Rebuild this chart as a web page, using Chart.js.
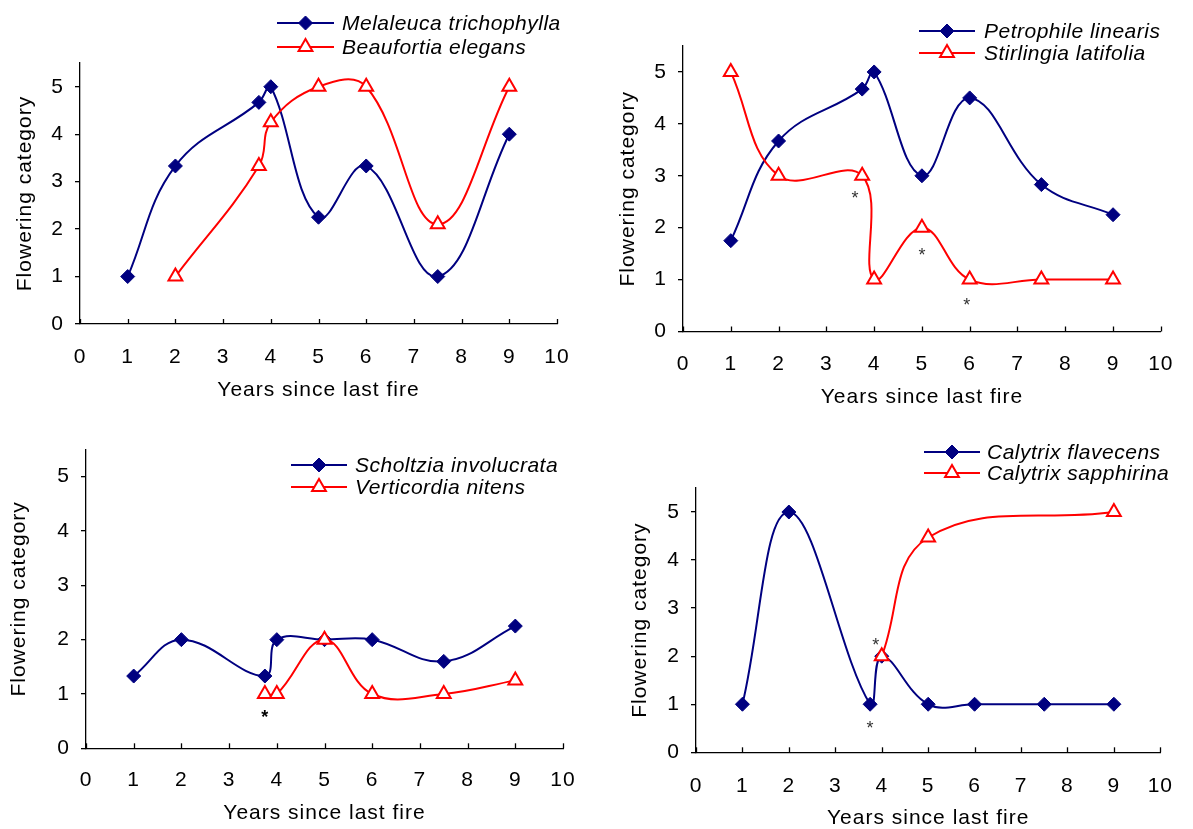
<!DOCTYPE html>
<html><head><meta charset="utf-8">
<script src="https://cdn.jsdelivr.net/npm/chart.js@4.4.1/dist/chart.umd.min.js"></script>
<style>
html,body{margin:0;padding:0;background:#fff;width:1193px;height:829px;overflow:hidden}
canvas{position:absolute;display:block}
</style></head><body>
<canvas id="c1" width="596" height="415" style="left:0;top:0;width:596px;height:415px"></canvas>
<canvas id="c2" width="597" height="415" style="left:596px;top:0;width:597px;height:415px"></canvas>
<canvas id="c3" width="596" height="414" style="left:0;top:415px;width:596px;height:414px"></canvas>
<canvas id="c4" width="597" height="414" style="left:596px;top:415px;width:597px;height:414px"></canvas>
<script>
// ---------- data ----------
const xTickValues = [0,1,2,3,4,5,6,7,8,9,10];
const yTickValues = [0,1,2,3,4,5];
const xTitle = 'Years since last fire';
const yTitle = 'Flowering category';

const melaleucaYears = [1,2,3.75,4,5,6,7.5,9];
const melaleucaFlowering = [1,3.33,4.67,5,2.25,3.33,1,4];
const beaufortiaYears = [2,3.75,4,5,6,7.5,9];
const beaufortiaFlowering = [1,3.33,4.25,5,5,2.1,5];

const petrophileYears = [1,2,3.75,4,5,6,7.5,9];
const petrophileFlowering = [1.75,3.67,4.67,5,3,4.5,2.83,2.25];
const stirlingiaYears = [1,2,3.75,4,5,6,7.5,9];
const stirlingiaFlowering = [5,3,3,1,2,1,1,1];

const scholtziaYears = [1,2,3.75,4,5,6,7.5,9];
const scholtziaFlowering = [1.33,2,1.33,2,2,2,1.6,2.25];
const verticordiaYears = [3.75,4,5,6,7.5,9];
const verticordiaFlowering = [1,1,2,1,1,1.25];

const flavecensYears = [1,2,3.75,4,5,6,7.5,9];
const flavecensFlowering = [1,5,1,2,1,1,1,1];
const sapphirinaYears = [4,5,9];
const sapphirinaFlowering = [2,4.47,5];

const panel1Names = ['Melaleuca trichophylla','Beaufortia elegans'];
const panel2Names = ['Petrophile linearis','Stirlingia latifolia'];
const panel3Names = ['Scholtzia involucrata','Verticordia nitens'];
const panel4Names = ['Calytrix flavecens','Calytrix sapphirina'];

const panel2AsteriskX = [3.6,5.0,5.94];
const panel2AsteriskY = [2.67,1.57,0.61];
const panel3AsteriskX = [3.75];
const panel3AsteriskY = [0.66];
const panel4AsteriskX = [3.87,3.75];
const panel4AsteriskY = [2.34,0.6];

// ---------- styling ----------
const FONT = '"Liberation Sans", Arial, Helvetica, sans-serif';
const NAVY = '#000080';
const RED = '#ff0000';

function pts(xs, ys){ return xs.map((x,i)=>({x:x, y:ys[i]})); }

function navySeries(xs, ys, name){
  return {label:name, data:pts(xs,ys), showLine:true, tension:0.4, borderColor:NAVY, borderWidth:2,
    pointStyle:'rectRot', pointRadius:7, pointBackgroundColor:NAVY, pointBorderColor:NAVY, pointBorderWidth:1,
    order:1, clip:false, kind:'diamond'};
}
function redSeries(xs, ys, name){
  return {label:name, data:pts(xs,ys), showLine:true, tension:0.4, borderColor:RED, borderWidth:2,
    pointStyle:'triangle', pointRadius:8, pointBackgroundColor:'#ffffff', pointBorderColor:RED, pointBorderWidth:2,
    order:0, clip:false, kind:'triangle'};
}

function drawMarker(ctx, kind, x, y){
  ctx.save();
  ctx.beginPath();
  if(kind==='diamond'){
    const r=7;
    ctx.moveTo(x-r,y); ctx.lineTo(x,y-r); ctx.lineTo(x+r,y); ctx.lineTo(x,y+r); ctx.closePath();
    ctx.fillStyle=NAVY; ctx.fill(); ctx.lineWidth=1; ctx.strokeStyle=NAVY; ctx.stroke();
  } else {
    const r=8;
    ctx.moveTo(x,y-r); ctx.lineTo(x+r*0.866,y+r*0.5); ctx.lineTo(x-r*0.866,y+r*0.5); ctx.closePath();
    ctx.fillStyle='#fff'; ctx.fill(); ctx.lineWidth=2; ctx.strokeStyle=RED; ctx.stroke();
  }
  ctx.restore();
}

const decorPlugin = {
  id:'decor',
  beforeDraw(chart){
    chart.ctx.letterSpacing = '1px';
  },
  afterDraw(chart, args, opts){
    const ctx = chart.ctx;
    const xs = chart.scales.x, ys = chart.scales.y;
    const bottom = chart.chartArea.bottom;
    // inward x tick marks
    ctx.save();
    ctx.strokeStyle='#000'; ctx.lineWidth=1.3;
    xTickValues.forEach(v=>{
      const px = Math.round(xs.getPixelForValue(v))+0.5;
      ctx.beginPath(); ctx.moveTo(px,bottom); ctx.lineTo(px,bottom-5); ctx.stroke();
    });
    ctx.restore();
    // asterisks
    if(opts.astX){
      ctx.save();
      ctx.letterSpacing='0px';
      ctx.font = (opts.astBold?'bold ':'')+'18px '+FONT;
      ctx.fillStyle = opts.astColor || '#333';
      ctx.textAlign='center'; ctx.textBaseline='alphabetic';
      opts.astX.forEach((v,i)=>{
        const px = xs.getPixelForValue(v), py = ys.getPixelForValue(opts.astY[i]);
        ctx.fillText('*', px, py + 18*0.6);
      });
      ctx.restore();
    }
    // legend
    const lg = opts.legend;
    chart.data.datasets.forEach((ds,i)=>{
      const y = lg.y0 + i*lg.dy;
      ctx.save();
      ctx.strokeStyle = ds.borderColor; ctx.lineWidth=2;
      ctx.beginPath(); ctx.moveTo(lg.x1,y); ctx.lineTo(lg.x2,y); ctx.stroke();
      ctx.restore();
      drawMarker(ctx, ds.kind, (lg.x1+lg.x2)/2, y);
      ctx.save();
      ctx.letterSpacing='0.5px';
      ctx.font = 'italic 21px '+FONT;
      ctx.fillStyle='#000'; ctx.textAlign='left'; ctx.textBaseline='middle';
      ctx.fillText(lg.names[i], lg.tx, y+1);
      ctx.restore();
    });
  }
};

function makePanel(id, g, datasets, legend, astX, astY, astBold){
  const el = document.getElementById(id);
  const W = el.width, H = el.height;
  return new Chart(el, {
    type:'scatter',
    data:{datasets:datasets},
    options:{
      responsive:false, animation:false, devicePixelRatio:1,
      layout:{padding:{left:0,right:W-g.R,top:g.T,bottom:0}},
      plugins:{legend:{display:false}, tooltip:{enabled:false},
        decor:{legend:legend, astX:astX, astY:astY, astBold:astBold, astColor: astBold?'#000':'#333'}},
      scales:{
        x:{type:'linear', min:0, max:10,
          afterBuildTicks:s=>{s.ticks = xTickValues.map(v=>({value:v}));},
          afterFit:s=>{s.height = H - g.B;},
          grid:{display:false, drawTicks:false},
          border:{display:true, color:'#000', width:1.3},
          ticks:{padding:g.xtp, color:'#000', font:{family:FONT,size:21}, maxRotation:0, autoSkip:false},
          title:{display:true, text:xTitle, color:'#000', font:{family:FONT,size:21,lineHeight:1}, padding:{top:0,bottom:g.xtitle}}
        },
        y:{type:'linear', min:0, max:5.5,
          afterBuildTicks:s=>{s.ticks = yTickValues.map(v=>({value:v}));},
          afterFit:s=>{s.width = g.L;},
          grid:{display:true, drawOnChartArea:false, drawTicks:true, tickLength:5, color:'#000', lineWidth:1.3},
          border:{display:true, color:'#000', width:1.3},
          ticks:{padding:11, color:'#000', font:{family:FONT,size:21}},
          title:{display:true, text:yTitle, color:'#000', font:{family:FONT,size:21,lineHeight:1}, padding:{top:g.ytitle,bottom:0}}
        }
      }
    },
    plugins:[decorPlugin]
  });
}

makePanel('c1', {L:80, R:557, T:63, B:324, xtp:21, xtitle:14.5, ytitle:15},
  [navySeries(melaleucaYears, melaleucaFlowering, panel1Names[0]), redSeries(beaufortiaYears, beaufortiaFlowering, panel1Names[1])],
  {x1:277, x2:334, tx:342, y0:23, dy:24, names:panel1Names}, null, null, false);

makePanel('c2', {L:87, R:570, T:46, B:331.5, xtp:20.5, xtitle:7.5, ytitle:22},
  [navySeries(petrophileYears, petrophileFlowering, panel2Names[0]), redSeries(stirlingiaYears, stirlingiaFlowering, panel2Names[1])],
  {x1:323, x2:379, tx:388, y0:31, dy:22, names:panel2Names}, panel2AsteriskX, panel2AsteriskY, false);

makePanel('c3', {L:86, R:563, T:34.5, B:333.3, xtp:19, xtitle:5.5, ytitle:9},
  [navySeries(scholtziaYears, scholtziaFlowering, panel3Names[0]), redSeries(verticordiaYears, verticordiaFlowering, panel3Names[1])],
  {x1:291, x2:347, tx:355, y0:50, dy:22, names:panel3Names}, panel3AsteriskX, panel3AsteriskY, true);

makePanel('c4', {L:100, R:576, T:73, B:337.3, xtp:21, xtitle:0.5, ytitle:34},
  [navySeries(flavecensYears, flavecensFlowering, panel4Names[0]), redSeries(sapphirinaYears, sapphirinaFlowering, panel4Names[1])],
  {x1:328, x2:384, tx:391, y0:37, dy:21, names:panel4Names}, panel4AsteriskX, panel4AsteriskY, false);
</script>
</body></html>
